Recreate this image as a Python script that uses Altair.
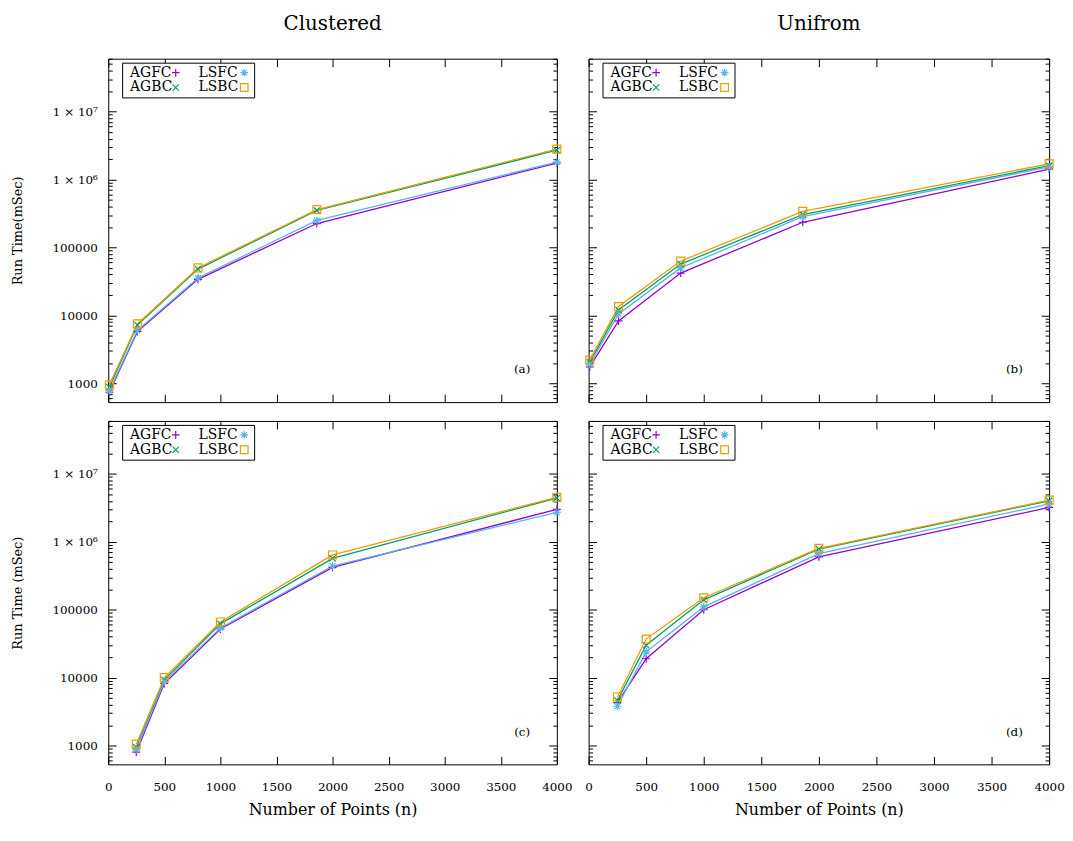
import altair as alt
import pandas as pd

FONT = "DejaVu Serif"

# ---- data ----
series_order = ["AGFC", "AGBC", "LSFC", "LSBC"]          # series names
legend_order = ["AGFC", "LSFC", "AGBC", "LSBC"]          # legend order (2 columns, row-wise)
legend_colors = ["#9400d3", "#56b4e9", "#009e73", "#e69f00"]
line_order = ["LSBC", "LSFC", "AGBC", "AGFC"]
line_colors = ["#e69f00", "#56b4e9", "#009e73", "#9400d3"]
legend_shapes = [
    "M-1,0L1,0M0,-1L0,1",
    "M-1,0L1,0M0,-1L0,1M-0.72,-0.72L0.72,0.72M-0.72,0.72L0.72,-0.72",
    "M-0.8,-0.8L0.8,0.8M-0.8,0.8L0.8,-0.8",
    "square",
]

n_top = [10, 260, 800, 1860, 4000]
n_bottom = [250, 500, 1000, 2000, 4000]

a_AGFC = [740, 5800, 34000, 225000, 1750000]
a_AGBC = [880, 7200, 48000, 350000, 2700000]
a_LSFC = [780, 6000, 35500, 250000, 1800000]
a_LSBC = [950, 7500, 50000, 360000, 2800000]

b_AGFC = [1750, 8300, 42000, 235000, 1420000]
b_AGBC = [2050, 12000, 57000, 305000, 1600000]
b_LSFC = [1900, 10500, 50000, 285000, 1530000]
b_LSBC = [2200, 13500, 63000, 340000, 1700000]

c_AGFC = [800, 8200, 52000, 420000, 3000000]
c_AGBC = [950, 9300, 62000, 570000, 4400000]
c_LSFC = [880, 8700, 54000, 440000, 2700000]
c_LSBC = [1050, 10000, 66000, 640000, 4500000]

d_AGFC = [4300, 19000, 100000, 600000, 3200000]
d_AGBC = [4600, 30000, 140000, 780000, 4000000]
d_LSFC = [3800, 24000, 110000, 670000, 3600000]
d_LSBC = [5200, 37000, 150000, 800000, 4100000]

x_ticks = [0, 500, 1000, 1500, 2000, 2500, 3000, 3500, 4000]
y_major = [1000, 10000, 100000, 1000000, 10000000]
y_minor = [m * 10 ** k for k in range(2, 8) for m in range(2, 10) if 530 <= m * 10 ** k <= 6e7]

MAJ = 8
MIN = 4


def neg(v):
    return {"expr": str(-v)}


def frame(ns, vals):
    rows = []
    for name in series_order:
        for n, v in zip(ns, vals[name]):
            rows.append({"n": n, "time": v, "algo": name})
    return pd.DataFrame(rows)


def panel(df, label, width, height, xlab, ytitle, title):
    xs = alt.Scale(domain=[0, 4000], nice=False, zero=False)
    ys = alt.Scale(type="log", domain=[530, 6e7], nice=False)
    cs = alt.Scale(domain=legend_order, range=legend_colors)
    ls = alt.Scale(domain=line_order, range=line_colors)
    ss = alt.Scale(domain=legend_order, range=legend_shapes)
    base = alt.Chart(df)

    x_axis_kw = dict(orient="bottom", values=x_ticks, offset=neg(MAJ), tickSize=MAJ, domain=False,
                     grid=False, labels=xlab, labelPadding=17, labelFontSize=12, format="d",
                     labelFlush=False, titleFontSize=16, titlePadding=10, minExtent=0)
    x_axis_kw["title"] = "Number of Points (n)" if xlab else None
    y_axis_kw = dict(orient="left", values=y_major, offset=neg(MAJ), tickSize=MAJ, domain=False,
                     grid=False, labels=ytitle is not None, labelPadding=11, labelFontSize=12,
                     labelExpr="datum.value >= 1e7 ? '1 × 10⁷' : (datum.value >= 1e6 ? '1 × 10⁶' : format(datum.value, 'd'))",
                     titleFontSize=13, titlePadding=28, minExtent=0)
    y_axis_kw["title"] = ytitle

    line = base.mark_line(strokeWidth=1.3).encode(
        x=alt.X("n:Q", scale=xs, axis=alt.Axis(**x_axis_kw)),
        y=alt.Y("time:Q", scale=ys, axis=alt.Axis(**y_axis_kw)),
        stroke=alt.Stroke("algo:N", scale=ls, legend=None),
        detail="algo:N",
    )
    leg = alt.Legend(title=None, orient="none", legendX=14, legendY=4, columns=2, direction="horizontal",
                     strokeColor="black", fillColor="white", padding=3,
                     labelFont=FONT, labelFontSize=14, rowPadding=1, columnPadding=11,
                     symbolOffset=44, labelOffset=neg(53),
                     symbolStrokeWidth=1.2, symbolSize=60, labelColor="black")
    pts = base.mark_point(filled=False, size=64, strokeWidth=1.2, opacity=1).encode(
        x=alt.X("n:Q", scale=xs, axis=None),
        y=alt.Y("time:Q", scale=ys, axis=None),
        color=alt.Color("algo:N", scale=cs, legend=leg),
        shape=alt.Shape("algo:N", scale=ss, legend=leg),
    )
    ghost = base.mark_point(opacity=0, size=1)
    left_minor = ghost.encode(
        x=alt.X("n:Q", scale=xs, axis=None),
        y=alt.Y("time:Q", scale=ys, axis=alt.Axis(orient="left", values=y_minor, offset=neg(MIN), tickSize=MIN,
                                                  domain=False, grid=False, labels=False, title=None, minExtent=0)),
    )
    right_major = ghost.encode(
        x=alt.X("n:Q", scale=xs, axis=alt.Axis(orient="top", values=x_ticks, offset=neg(MAJ), tickSize=MAJ,
                                               domain=False, grid=False, labels=False, title=None, minExtent=0)),
        y=alt.Y("time:Q", scale=ys, axis=alt.Axis(orient="right", values=y_major, offset=neg(MAJ), tickSize=MAJ,
                                                  domain=False, grid=False, labels=False, title=None, minExtent=0)),
    )
    right_minor = ghost.encode(
        x=alt.X("n:Q", scale=xs, axis=None),
        y=alt.Y("time:Q", scale=ys, axis=alt.Axis(orient="right", values=y_minor, offset=neg(MIN), tickSize=MIN,
                                                  domain=False, grid=False, labels=False, title=None, minExtent=0)),
    )
    txt = alt.Chart(pd.DataFrame({"t": [label]})).mark_text(font=FONT, fontSize=12, color="black").encode(
        text="t:N", x=alt.value(width - 35), y=alt.value(height - 33)
    )
    ch = alt.layer(line, pts, left_minor, right_major, right_minor, txt).resolve_axis(
        x="independent", y="independent"
    )
    props = dict(width=width, height=height)
    if title:
        props["title"] = alt.TitleParams(title, fontSize=20, font=FONT, fontWeight="normal", offset=24, color="black")
    return ch.properties(**props)


va = {"AGFC": a_AGFC, "AGBC": a_AGBC, "LSFC": a_LSFC, "LSBC": a_LSBC}
vb = {"AGFC": b_AGFC, "AGBC": b_AGBC, "LSFC": b_LSFC, "LSBC": b_LSBC}
vc = {"AGFC": c_AGFC, "AGBC": c_AGBC, "LSFC": c_LSFC, "LSBC": c_LSBC}
vd = {"AGFC": d_AGFC, "AGBC": d_AGBC, "LSFC": d_LSFC, "LSBC": d_LSBC}

pa = panel(frame(n_top, va), "(a)", 452, 346, False, "Run Time(mSec)", "Clustered")
pb = panel(frame(n_top, vb), "(b)", 464, 346, False, None, "Unifrom")
pc = panel(frame(n_bottom, vc), "(c)", 452, 346, True, "Run Time (mSec)", None)
pd_ = panel(frame(n_bottom, vd), "(d)", 464, 346, True, None, None)

ind = dict(color="independent", shape="independent", stroke="independent")
top = alt.hconcat(pa, pb, spacing=32, bounds="flush").resolve_scale(**ind)
bottom = alt.hconcat(pc, pd_, spacing=32, bounds="flush").resolve_scale(**ind)
chart = (
    alt.vconcat(top, bottom, spacing=17)
    .resolve_scale(**ind)
    .properties(padding={"left": 2, "top": 3, "right": 0, "bottom": 0})
    .configure_view(stroke="black", strokeWidth=1)
    .configure_axis(labelFont=FONT, titleFont=FONT, titleFontWeight="normal", tickColor="black",
                    labelColor="black", titleColor="black", tickWidth=1, labelFontSize=12)
    .configure_title(font=FONT)
)

chart.save("out.html", embed_options={"renderer": "svg", "actions": False})
